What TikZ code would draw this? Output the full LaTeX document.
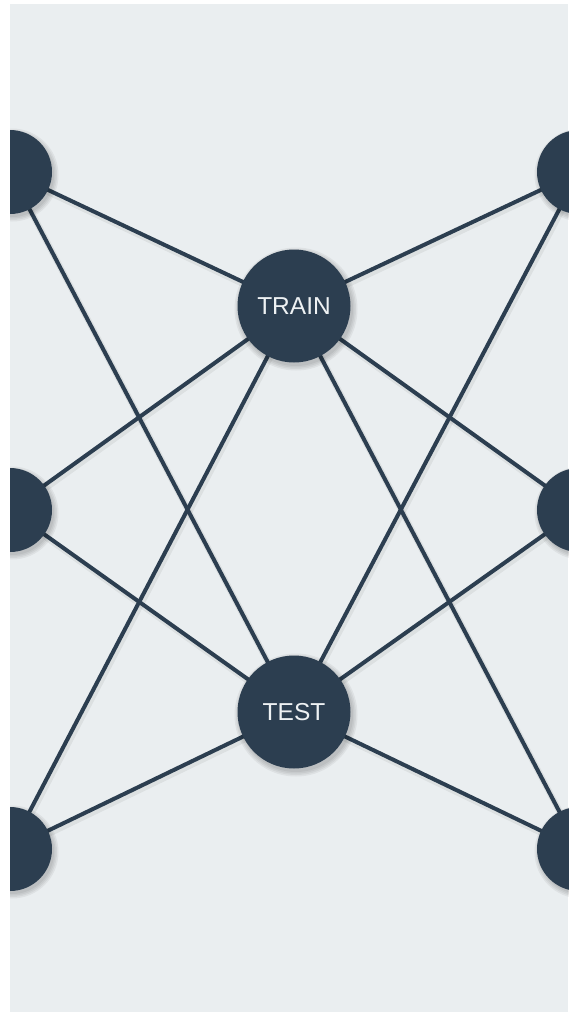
\documentclass[tikz,border=0pt]{standalone}
\usepackage{fontspec}
\setmainfont{Liberation Sans}
\definecolor{bgcol}{HTML}{EAEEF0}
\definecolor{navy}{HTML}{2C3E50}
\definecolor{txtcol}{HTML}{EEF1F3}
\pgfdeclarelayer{bg}
\pgfdeclarelayer{edges}
\pgfdeclarelayer{shade}
\pgfsetlayers{bg,edges,shade,main}
\tikzset{
  hub/.style={circle, fill=navy, minimum size=113pt, inner sep=0pt,
    text=txtcol, font=\fontsize{24.5}{28}\selectfont},
  side/.style={circle, fill=navy, minimum size=84pt, inner sep=0pt},
  link/.style={draw=navy, line width=4pt},
  linkshadow/.style={draw=black, line width=6.5pt, opacity=0.06,
    transform canvas={shift={(1.5pt,-2.5pt)}}},
  discshadow/.style={fill=black, opacity=0.05},
}
\begin{document}
\begin{tikzpicture}[x=1pt,y=-1pt]
\useasboundingbox (0,0) rectangle (568,1012);
\begin{pgfonlayer}{bg}
  \fill[white] (0,0) rectangle (568,1012);
  \fill[bgcol] (10,4) rectangle (568,1012);
\end{pgfonlayer}
\node[hub] (train) at (294,306) {TRAIN};
\node[hub] (test) at (294,712) {TEST};
\node[side] (L1) at (10,172) {};
\node[side] (L2) at (10,510) {};
\node[side] (L3) at (10,849) {};
\node[side] (R1) at (579,172) {};
\node[side] (R2) at (579,510) {};
\node[side] (R3) at (579,849) {};
\begin{pgfonlayer}{edges}
  \foreach \s in {L1,L2,L3,R1,R2,R3}{
    \foreach \h in {train,test}{
      \path[linkshadow] (\s.center) -- (\h.center);
    }
  }
  \foreach \s in {L1,L2,L3,R1,R2,R3}{
    \foreach \h in {train,test}{
      \path[link] (\s.center) -- (\h.center);
    }
  }
\end{pgfonlayer}
\begin{pgfonlayer}{shade}
  \foreach \n in {train,test}{
    \foreach \r in {57,58.5,60,61.5}{
      \fill[discshadow] ([shift={(2pt,-3pt)}]\n.center) circle (\r pt);
    }
  }
  \foreach \n in {L1,L2,L3,R1,R2,R3}{
    \foreach \r in {42,43.5,45,46.5}{
      \fill[discshadow] ([shift={(2pt,-3pt)}]\n.center) circle (\r pt);
    }
  }
\end{pgfonlayer}
\fill[white] (0,0) rectangle (10,1012);
\fill[white] (0,0) rectangle (568,4);
\end{tikzpicture}
\end{document}
